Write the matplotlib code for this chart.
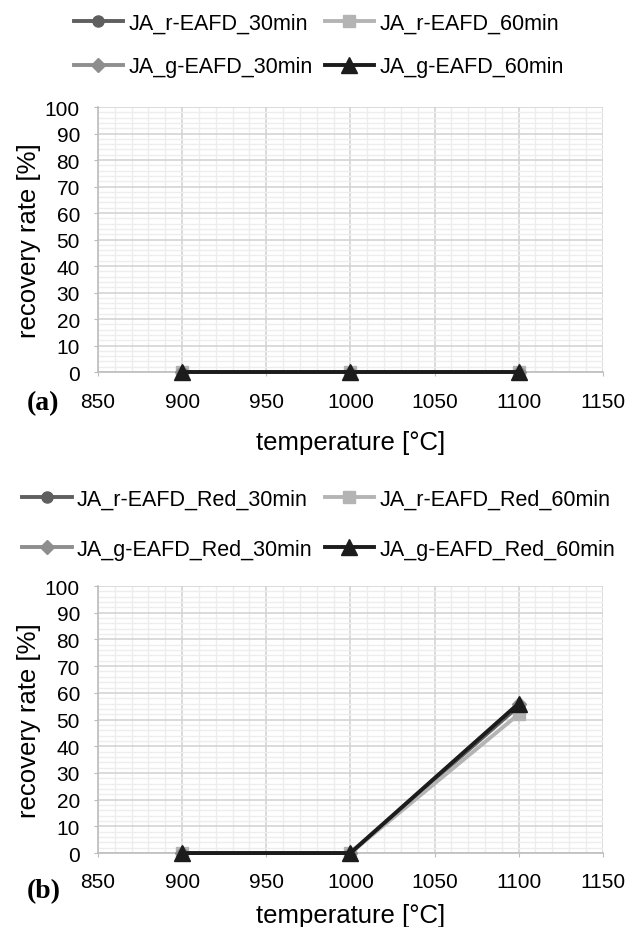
import numpy as np
import matplotlib.pyplot as plt
from matplotlib.ticker import MultipleLocator

plt.rcParams['font.family'] = ['Liberation Sans', 'DejaVu Sans']

# data
temps = [900, 1000, 1100]
labels_a = ['JA_r-EAFD_30min', 'JA_r-EAFD_60min', 'JA_g-EAFD_30min', 'JA_g-EAFD_60min']
values_a = [[0, 0, 0], [0, 0, 0], [0, 0, 0], [0, 0, 0]]
labels_b = ['JA_r-EAFD_Red_30min', 'JA_r-EAFD_Red_60min', 'JA_g-EAFD_Red_30min', 'JA_g-EAFD_Red_60min']
values_b = [[0, 0, 55], [0, 0, 52], [0, 0, 56], [0, 0, 56]]

colors = ['#5f5f5f', '#b4b4b4', '#8e8e8e', '#1c1c1c']
markers = ['o', 's', 'D', '^']
msizes = [8, 9, 7, 11]

fig = plt.figure(figsize=(6.31, 9.28), dpi=100)
ax_a = fig.add_axes([0.1553, 0.598, 0.800, 0.2856])
ax_b = fig.add_axes([0.1553, 0.0797, 0.800, 0.2877])


def style_axes(ax, lpad):
    ax.set_xlim(850, 1150)
    ax.set_ylim(0, 100)
    ax.xaxis.set_major_locator(MultipleLocator(50))
    ax.xaxis.set_minor_locator(MultipleLocator(10))
    ax.yaxis.set_major_locator(MultipleLocator(10))
    ax.yaxis.set_minor_locator(MultipleLocator(2))
    ax.grid(which='major', color='#d4d4d4', linewidth=1.2)
    ax.grid(which='minor', color='#ededed', linewidth=1.0)
    ax.set_axisbelow(True)
    for s in ['top', 'right']:
        ax.spines[s].set_visible(False)
    for s in ['left', 'bottom']:
        ax.spines[s].set_color('#bdbdbd')
        ax.spines[s].set_linewidth(1.2)
    ax.tick_params(which='major', length=3, color='#bdbdbd', labelsize=15)
    ax.tick_params(which='minor', length=0)
    ax.tick_params(axis='x', pad=11)
    ax.tick_params(axis='y', pad=10)
    ax.set_xlabel('temperature [°C]', fontsize=18.5, labelpad=lpad)
    ax.set_ylabel('recovery rate [%]', fontsize=18.5, labelpad=3)


for ax, labels, values, lpad in [(ax_a, labels_a, values_a, 14), (ax_b, labels_b, values_b, 8)]:
    style_axes(ax, lpad)
    for lab, vals, c, m, ms in zip(labels, values, colors, markers, msizes):
        ax.plot(temps, vals, color=c, marker=m, markersize=ms, linewidth=2.8,
                label=lab, clip_on=False, zorder=3)


def add_legend(ax, y, spacing):
    h, l = ax.get_legend_handles_labels()
    # row-wise order with ncol=2
    order = [0, 2, 1, 3]
    fig.legend([h[i] for i in order], [l[i] for i in order], loc='center',
               bbox_to_anchor=(0.505, y), ncol=2, frameon=False, fontsize=15.5,
               handlelength=2.3, handletextpad=0.25, columnspacing=0.55,
               labelspacing=spacing)


add_legend(ax_a, 0.9504, 1.05)
add_legend(ax_b, 0.4338, 1.35)

fig.text(0.068, 0.5647, '(a)', fontsize=20, fontweight='bold', family='Liberation Serif',
         ha='center', va='center')
fig.text(0.070, 0.0388, '(b)', fontsize=20, fontweight='bold', family='Liberation Serif',
         ha='center', va='center')

fig.savefig('out.png', dpi=100)
